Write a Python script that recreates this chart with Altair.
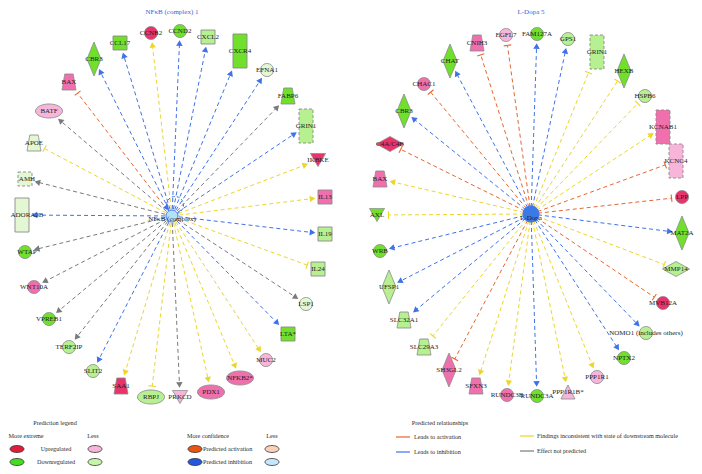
import altair as alt
import pandas as pd
import numpy as np

# ---------------- data ----------------
L_CENTER = ("NFκB (complex)", 172, 216)
R_CENTER = ("L-Dopa", 531, 214)
TITLES = ["NFκB (complex) 1", "L-Dopa 5"]

L_NAMES = ["CCNB2", "CCL17", "CBR3", "BAX", "BATF", "APOE", "AMH", "ADORA2B", "WTAP", "WNT10A",
           "VPREB1", "TERF2IP", "SLIT2", "SAA1", "RBPJ", "PRKCD", "PDX1", "NFKB2*", "MUC2", "LTA*",
           "LSP1", "IL24", "IL19", "IL13", "IKBKE", "GRIN1", "FABP6", "EFNA1", "CXCR4", "CXCL2", "CCND2"]
L_X = [151, 120, 94, 69, 49, 34, 25, 22, 25, 34, 49, 69, 93, 121, 151, 180, 211, 240, 266, 288,
       306, 318, 325, 325, 318, 306, 288, 267, 240, 208, 180]
L_Y = [33, 43, 59, 82, 111, 143, 179, 215, 252, 287, 319, 347, 371, 386, 397, 397, 392, 378, 360, 334,
       304, 269, 234, 197, 160, 126, 96, 70, 51, 37, 31]
L_SHAPE = ["circle", "square", "diamond", "trap", "ellipse", "trap", "square", "tallrect", "circle", "circle",
           "circle", "circle", "circle", "trap", "ellipse", "invtri", "ellipse", "ellipse", "circle", "square",
           "circle", "square", "square", "square", "invtri", "tallrect", "trap", "circle", "tallrect", "square", "circle"]
L_LEVEL = ["up3", "dn3", "dn3", "up2", "up1", "dn1", "dn1", "dn1", "dn3", "up2",
           "dn3", "dn2", "dn2", "up3", "dn2", "up1", "up2", "up2", "up1", "dn3",
           "dn1", "dn2", "dn2", "up2", "up3", "dn2", "dn3", "dn1", "dn3", "dn2", "dn3"]
L_EDGE = ["inc", "inh", "inh", "act", "np", "inc", "np", "inh", "np", "np",
          "np", "np", "inh", "inc", "inc", "np", "inc", "inc", "inc", "inh",
          "np", "inc", "inh", "inc", "inc", "inh", "np", "inh", "inh", "inh", "inh"]
L_END = ["arrow", "arrow", "arrow", "bar", "arrow", "bar", "arrow", "arrow", "arrow", "arrow",
         "arrow", "arrow", "arrow", "arrow", "bar", "arrow", "arrow", "arrow", "arrow", "arrow",
         "arrow", "bar", "arrow", "arrow", "arrow", "arrow", "arrow", "arrow", "arrow", "arrow", "arrow"]
L_DASHED = ["AMH", "GRIN1"]

R_NAMES = ["AXL", "BAX", "C4A/C4B", "CBR3", "CHAC1", "CHAT", "CNIH3", "EGFL7", "FAM127A", "GPS1",
           "GRIN1", "HEXB", "HSPB6", "KCNAB1", "KCNC4", "LPP", "MAT2A", "MMP14", "MVB12A",
           "NOMO1 (includes others)", "NPTX2", "PPP1R1", "PPP1R1B*", "RUNDC3A", "RUNDC3B", "SFXN3",
           "SH3GL2", "SLC29A3", "SLC32A1", "UFSP1", "WRB"]
R_X = [377, 380, 390, 404, 424, 450, 477, 506, 537, 568, 597, 624, 645, 663, 676, 682, 682, 676, 663,
       646, 624, 597, 568, 537, 507, 476, 449, 424, 404, 389, 380]
R_Y = [215, 179, 144, 111, 84, 61, 43, 35, 34, 39, 52, 71, 96, 127, 161, 197, 233, 269, 303,
       333, 358, 377, 392, 396, 395, 386, 370, 347, 320, 287, 251]
R_SHAPE = ["invtri", "trap", "diamondwide", "diamond", "circle", "diamond", "trap", "circle", "circle", "circle",
           "tallrect", "diamond", "circle", "tallrect", "tallrect", "circle", "diamond", "diamondwide", "circle",
           "circle", "circle", "circle", "tri", "circle", "circle", "trap",
           "diamond", "trap", "trap", "diamond", "circle"]
R_LEVEL = ["dn3", "up2", "up3", "dn3", "up2", "dn3", "up2", "up1", "dn3", "dn2",
           "dn2", "dn3", "dn2", "up2", "up1", "up3", "dn3", "dn2", "up3",
           "dn2", "dn3", "up1", "up1", "dn3", "up2", "up2",
           "up2", "dn2", "dn2", "dn2", "dn3"]
R_EDGE = ["inc", "inc", "act", "inh", "act", "inh", "act", "act", "inh", "inh",
          "inc", "inc", "inc", "inc", "act", "act", "inh", "inc", "act",
          "inh", "inh", "inc", "inc", "inh", "inc", "inc",
          "act", "inc", "inh", "inh", "inh"]
R_END = ["bar", "arrow", "bar", "arrow", "bar", "arrow", "bar", "bar", "arrow", "arrow",
         "bar", "bar", "bar", "arrow", "bar", "bar", "arrow", "bar", "bar",
         "arrow", "arrow", "arrow", "arrow", "arrow", "arrow", "arrow",
         "bar", "bar", "arrow", "arrow", "arrow"]
R_DASHED = ["GRIN1", "KCNAB1", "KCNC4"]

LEG_C_TEXT = ["Prediction legend", "More extreme", "Less", "Upregulated", "Downregulated",
              "More confidence", "Less", "Predicted relationships"]
LEG_C_X = [55, 26, 93, 56, 56, 208, 272, 440]
LEG_C_Y = [423, 436, 436, 449, 462, 436, 436, 423]
LEG_L_TEXT = ["Predicted activation", "Predicted inhibition", "Leads to activation", "Leads to inhibition",
              "Findings inconsistent with state of downstream molecule", "Effect not predicted"]
LEG_L_X = [203, 203, 414, 414, 537, 537]
LEG_L_Y = [449, 462, 437, 452, 436, 451]
LEG_OVAL_KEY = ["lg_up", "lg_upl", "lg_dn", "lg_dnl", "lg_act", "lg_actl", "lg_inh", "lg_inhl"]
LEG_OVAL_X = [17, 95, 17, 95, 195, 272, 195, 272]
LEG_OVAL_Y = [449, 449, 462, 462, 449, 449, 462, 462]
LEG_LINE_KEY = ["act", "inh", "inc", "np"]
LEG_LINE_X = [396, 396, 520, 520]
LEG_LINE_X2 = [410, 410, 534, 534]
LEG_LINE_Y = [437, 452, 436, 451]

# ---------------- styles ----------------
PALETTE = {
    "up3": "#e8336d", "up2": "#f070ae", "up1": "#f7b6d9",
    "dn3": "#70e02c", "dn2": "#b6f090", "dn1": "#e4f7d5",
    "act": "#e8652e", "inh": "#3f72e8", "inc": "#ecd62a", "np": "#7a7a7a",
    "lg_up": "#e01e3c", "lg_upl": "#f6b4d6", "lg_dn": "#46dc22", "lg_dnl": "#c6f5aa",
    "lg_act": "#e85512", "lg_actl": "#fbd0b8", "lg_inh": "#2458dc", "lg_inhl": "#c6e6fb",
    "ctrL": "#b3e2f6", "ctrR": "#3b7ae6", "none": "#ffffff",
}
PAL = alt.Scale(domain=list(PALETTE.keys()), range=list(PALETTE.values()))

SHAPE_DIMS = {
    "circle": (13, 13), "ellipse": (27, 14), "square": (14, 14), "tallrect": (14, 34),
    "diamond": (14, 34), "diamondwide": (27, 15), "trap": (14, 16), "invtri": (15, 13),
    "tri": (14, 14), "oval": (14, 7), "ctrL": (12, 12), "ctrR": (16, 16), "loop": (17, 17),
}


def shape_path(kind, w, h):
    d = max(w, h)
    a, b = w / d, h / d
    if kind in ("circle", "ellipse", "oval", "ctrL", "ctrR", "loop"):
        return f"M{-a:.3f},0A{a:.3f},{b:.3f} 0 1,0 {a:.3f},0A{a:.3f},{b:.3f} 0 1,0 {-a:.3f},0Z"
    if kind in ("square", "tallrect"):
        return f"M{-a:.3f},{-b:.3f}H{a:.3f}V{b:.3f}H{-a:.3f}Z"
    if kind in ("diamond", "diamondwide"):
        return f"M0,{-b:.3f}L{a:.3f},0L0,{b:.3f}L{-a:.3f},0Z"
    if kind == "trap":
        return f"M{-0.6 * a:.3f},{-b:.3f}H{0.6 * a:.3f}L{a:.3f},{b:.3f}H{-a:.3f}Z"
    if kind == "invtri":
        return f"M{-a:.3f},{-b:.3f}H{a:.3f}L0,{b:.3f}Z"
    return f"M0,{-b:.3f}L{a:.3f},{b:.3f}H{-a:.3f}Z"


SHAPE_KEYS = list(SHAPE_DIMS.keys())
SHAPE_SCALE = alt.Scale(domain=SHAPE_KEYS, range=[shape_path(k, *SHAPE_DIMS[k]) for k in SHAPE_KEYS])
DASH_SCALE = alt.Scale(domain=["no", "yes"], range=[[1, 0], [3, 2]])

XS = alt.Scale(domain=[8, 694], nice=False, zero=False)
YS = alt.Scale(domain=[8, 466], nice=False, zero=False, reverse=True)
FONT = "Liberation Serif"


def X(f="x"):
    return alt.X(f"{f}:Q", scale=XS, axis=None)


def Y(f="y"):
    return alt.Y(f"{f}:Q", scale=YS, axis=None)


def boundary(kind, ux, uy):
    w, h = SHAPE_DIMS[kind]
    hw, hh = w / 2, h / 2
    ax, ay = abs(ux) + 1e-9, abs(uy) + 1e-9
    if kind in ("circle", "ellipse"):
        return 1 / np.sqrt((ax / hw) ** 2 + (ay / hh) ** 2)
    if kind in ("diamond", "diamondwide"):
        return 1 / (ax / hw + ay / hh)
    return min(hw / ax, hh / ay)


nodes, edges, heads = [], [], []
for (cname, cx, cy), names, xs, ys, shp, lvl, ety, end, dashed in [
    (L_CENTER, L_NAMES, L_X, L_Y, L_SHAPE, L_LEVEL, L_EDGE, L_END, L_DASHED),
    (R_CENTER, R_NAMES, R_X, R_Y, R_SHAPE, R_LEVEL, R_EDGE, R_END, R_DASHED),
]:
    for i, n in enumerate(names):
        nx, ny = xs[i], ys[i]
        dist = np.hypot(cx - nx, cy - ny)
        ux, uy = (cx - nx) / dist, (cy - ny) / dist
        t = boundary(shp[i], ux, uy)
        ang = (np.degrees(np.arctan2(-ux, uy)) + 360) % 360
        if end[i] == "arrow":
            hx, hy = nx + ux * (t + 5.5), ny + uy * (t + 5.5)
        else:
            hx, hy = nx + ux * (t + 4), ny + uy * (t + 4)
        edges.append(dict(x=cx, y=cy, x2=hx, y2=hy, k=ety[i]))
        heads.append(dict(x=hx, y=hy, ang=ang, k=ety[i], end=end[i]))
        w, h = SHAPE_DIMS[shp[i]]
        nodes.append(dict(x=nx, y=ny, lx=max(nx, 27), name=n, shape=shp[i], sz=max(w, h) ** 2, k=lvl[i],
                          dash="yes" if n in dashed else "no"))

nodes_df = pd.DataFrame(nodes)
edges_df = pd.DataFrame(edges)
heads_df = pd.DataFrame(heads)

centers_df = pd.DataFrame([
    dict(x=175, y=205, shape="loop", sz=17 ** 2, k="none", dash="yes", sk="inh"),
    dict(x=L_CENTER[1], y=L_CENTER[2], shape="ctrL", sz=12 ** 2, k="ctrL", dash="no", sk="inh"),
    dict(x=R_CENTER[1], y=R_CENTER[2], shape="ctrR", sz=16 ** 2, k="ctrR", dash="no", sk="inh"),
])
center_lbl_df = pd.DataFrame([
    dict(x=L_CENTER[1], y=L_CENTER[2] + 3, name=L_CENTER[0]),
    dict(x=R_CENTER[1], y=R_CENTER[2] + 4, name=R_CENTER[0]),
])
loop_head_df = pd.DataFrame([dict(x=167, y=208, ang=140, k="inh")])
titles_df = pd.DataFrame(dict(x=[L_CENTER[1], R_CENTER[1]], y=[12, 12], t=TITLES))

# ---------------- layers ----------------
edge_layer = alt.Chart(edges_df).mark_rule(strokeWidth=1, strokeDash=[4, 3]).encode(
    x=X(), y=Y(), x2="x2:Q", y2="y2:Q", stroke=alt.Stroke("k:N", scale=PAL, legend=None))

arrow_layer = alt.Chart(heads_df).transform_filter("datum.end == 'arrow'").mark_point(
    shape="triangle-up", filled=True, size=42, opacity=1).encode(
    x=X(), y=Y(), angle=alt.Angle("ang:Q", scale=None), fill=alt.Fill("k:N", scale=PAL, legend=None))

bar_layer = alt.Chart(heads_df).transform_filter("datum.end == 'bar'").mark_point(
    shape="stroke", filled=False, size=55, strokeWidth=1.1, opacity=1).encode(
    x=X(), y=Y(), angle=alt.Angle("ang:Q", scale=None), stroke=alt.Stroke("k:N", scale=PAL, legend=None))

node_layer = alt.Chart(nodes_df).mark_point(filled=True, opacity=1, fillOpacity=1, stroke="#8a8a8a",
                                            strokeWidth=0.9).encode(
    x=X(), y=Y(),
    shape=alt.Shape("shape:N", scale=SHAPE_SCALE, legend=None),
    size=alt.Size("sz:Q", scale=None),
    fill=alt.Fill("k:N", scale=PAL, legend=None),
    strokeDash=alt.StrokeDash("dash:N", scale=DASH_SCALE, legend=None))

label_layer = alt.Chart(nodes_df).mark_text(font=FONT, fontSize=7, color="#1e1e1e", baseline="middle").encode(
    x=X("lx"), y=Y(), text="name:N")

loop_layer = alt.Chart(centers_df).transform_filter("datum.shape != 'loop'").mark_point(
    opacity=1, strokeWidth=1).encode(
    x=X(), y=Y(),
    shape=alt.Shape("shape:N", scale=SHAPE_SCALE, legend=None),
    size=alt.Size("sz:Q", scale=None),
    fill=alt.Fill("k:N", scale=PAL, legend=None),
    fillOpacity=alt.value(1),
    stroke=alt.Stroke("sk:N", scale=PAL, legend=None))
ring_layer = alt.Chart(centers_df).transform_filter("datum.shape == 'loop'").mark_point(
    filled=False, opacity=1, strokeWidth=1, shape=shape_path("loop", 17, 17), size=17 ** 2,
    strokeDash=[3, 2]).encode(x=X(), y=Y(), stroke=alt.Stroke("sk:N", scale=PAL, legend=None))

loop_head = alt.Chart(loop_head_df).mark_point(shape="triangle-up", filled=True, size=40, opacity=1).encode(
    x=X(), y=Y(), angle=alt.Angle("ang:Q", scale=None), fill=alt.Fill("k:N", scale=PAL, legend=None))

center_lbl = alt.Chart(center_lbl_df).mark_text(font=FONT, fontSize=7, color="#1e1e1e").encode(
    x=X(), y=Y(), text="name:N")

title_layer = alt.Chart(titles_df).mark_text(font=FONT, fontSize=7, color="#3c5fd6").encode(
    x=X(), y=Y(), text="t:N")

leg_c = alt.Chart(pd.DataFrame(dict(x=LEG_C_X, y=LEG_C_Y, t=LEG_C_TEXT))).mark_text(
    font=FONT, fontSize=6.2, color="#2a2a2a").encode(x=X(), y=Y(), text="t:N")
leg_l = alt.Chart(pd.DataFrame(dict(x=LEG_L_X, y=LEG_L_Y, t=LEG_L_TEXT))).mark_text(
    font=FONT, fontSize=6.2, color="#2a2a2a", align="left").encode(x=X(), y=Y(), text="t:N")
leg_oval = alt.Chart(pd.DataFrame(dict(x=LEG_OVAL_X, y=LEG_OVAL_Y, k=LEG_OVAL_KEY))).mark_point(
    filled=True, opacity=1, shape=shape_path("oval", 14, 7), size=14 ** 2, stroke="#333333",
    strokeWidth=0.8).encode(x=X(), y=Y(), fill=alt.Fill("k:N", scale=PAL, legend=None))
leg_line = alt.Chart(pd.DataFrame(dict(x=LEG_LINE_X, x2=LEG_LINE_X2, y=LEG_LINE_Y, k=LEG_LINE_KEY))).mark_rule(
    strokeWidth=1.2).encode(x=X(), x2="x2:Q", y=Y(), stroke=alt.Stroke("k:N", scale=PAL, legend=None))

chart = alt.layer(
    title_layer, edge_layer, arrow_layer, bar_layer, node_layer, label_layer,
    ring_layer, loop_layer, loop_head, center_lbl, leg_c, leg_l, leg_oval, leg_line,
).properties(width=686, height=458, autosize="none", padding=0).configure_view(stroke=None)

chart.save("out.html", embed_options={"renderer": "svg", "actions": False})
